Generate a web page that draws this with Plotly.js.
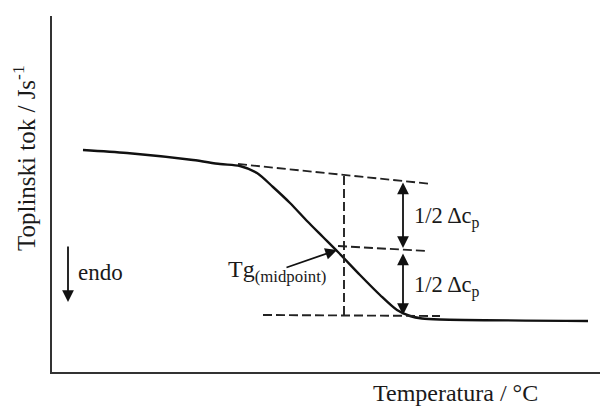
<!DOCTYPE html>
<html>
<head>
<meta charset="utf-8">
<script src="https://cdn.plot.ly/plotly-3.0.1.min.js"></script>
<style>html,body{margin:0;padding:0;background:#fff;} #chart{width:601px;height:409px;}</style>
</head>
<body>
<div id="chart"></div>
<script>
// DSC curve (arbitrary units: temperature, heat flow)
const curveT = [31, 75, 141, 168, 188, 205, 221, 238, 255, 271, 286, 308, 328, 345, 358, 370, 388, 536];
const curveQ = [222, 219, 212, 208, 206, 199, 185, 169, 151, 135, 120, 97, 77, 62, 56, 53.5, 52.5, 51];

// construction lines
const upperT = [186, 380], upperQ = [208, 188];
const midT = [286, 375], midQ = [126, 121];
const lowerT = [211, 388], lowerQ = [57, 56];
const vertT = [292, 292], vertQ = [196, 57];

// labels
const xTitle = "Temperatura / °C";
const yTitle = "Toplinski tok / Js<sup>-1</sup>";
const halfLabel = "1/2 Δc<sub>p</sub>";
const tgLabel = "Tg<sub>(midpoint)</sub>";
const endoLabel = "endo";

const fam = "Liberation Serif, Times New Roman, serif";
const f = s => ({family: fam, color: "#1a1a1a", size: s});
const dashLine = {color: "#222", width: 1.9, dash: "9px,4px"};

const traces = [
  {x: curveT, y: curveQ, mode: "lines", line: {color: "#111", width: 2.4, shape: "spline", smoothing: 0.8}, hoverinfo: "skip"},
  {x: upperT, y: upperQ, mode: "lines", line: dashLine, hoverinfo: "skip"},
  {x: midT, y: midQ, mode: "lines", line: dashLine, hoverinfo: "skip"},
  {x: lowerT, y: lowerQ, mode: "lines", line: dashLine, hoverinfo: "skip"},
  {x: vertT, y: vertQ, mode: "lines", line: dashLine, hoverinfo: "skip"}
];

function arrow(x0, y0, x1, y1, side) {
  return {x: x1, y: y1, ax: x0, ay: y0, xref: "x", yref: "y", axref: "x", ayref: "y",
    text: "", showarrow: true, arrowhead: 2, arrowsize: 1.3, arrowwidth: 1.8, arrowcolor: "#111",
    arrowside: side || "end", standoff: 0, startstandoff: 0, startarrowhead: 2, startarrowsize: 1.3};
}

const annotations = [
  arrow(351, 191, 351, 124, "end+start"),
  arrow(351, 120, 351, 57, "end+start"),
  arrow(233, 104, 285, 122),
  arrow(16, 127, 16, 70),
  {x: 360, y: 155, xref: "x", yref: "y", text: halfLabel, showarrow: false, xanchor: "left", yanchor: "middle", font: f(22.5)},
  {x: 360, y: 86, xref: "x", yref: "y", text: halfLabel, showarrow: false, xanchor: "left", yanchor: "middle", font: f(22.5)},
  {x: 276, y: 101, xref: "x", yref: "y", text: tgLabel, showarrow: false, xanchor: "right", yanchor: "middle", font: f(24)},
  {x: 24, y: 100, xref: "x", yref: "y", text: endoLabel, showarrow: false, xanchor: "left", yanchor: "middle", font: f(23)},
  {x: 0.737, y: -0.058, xref: "paper", yref: "paper", text: xTitle, showarrow: false, xanchor: "center", yanchor: "middle", font: f(24)},
  {x: -0.051, y: 0.601, xref: "paper", yref: "paper", text: yTitle, showarrow: false, textangle: -90, xanchor: "center", yanchor: "middle", font: f(25)}
];

const axisCommon = {showgrid: false, zeroline: false, showticklabels: false, ticks: "", showline: true, linecolor: "#333", linewidth: 2, fixedrange: true};

const layout = {
  width: 601, height: 409,
  margin: {l: 52, r: 1, t: 16, b: 37},
  paper_bgcolor: "#fff", plot_bgcolor: "#fff",
  showlegend: false,
  xaxis: Object.assign({range: [0, 548]}, axisCommon),
  yaxis: Object.assign({range: [0, 356]}, axisCommon),
  annotations: annotations
};

Plotly.newPlot("chart", traces, layout, {staticPlot: true, displayModeBar: false});
</script>
</body>
</html>
